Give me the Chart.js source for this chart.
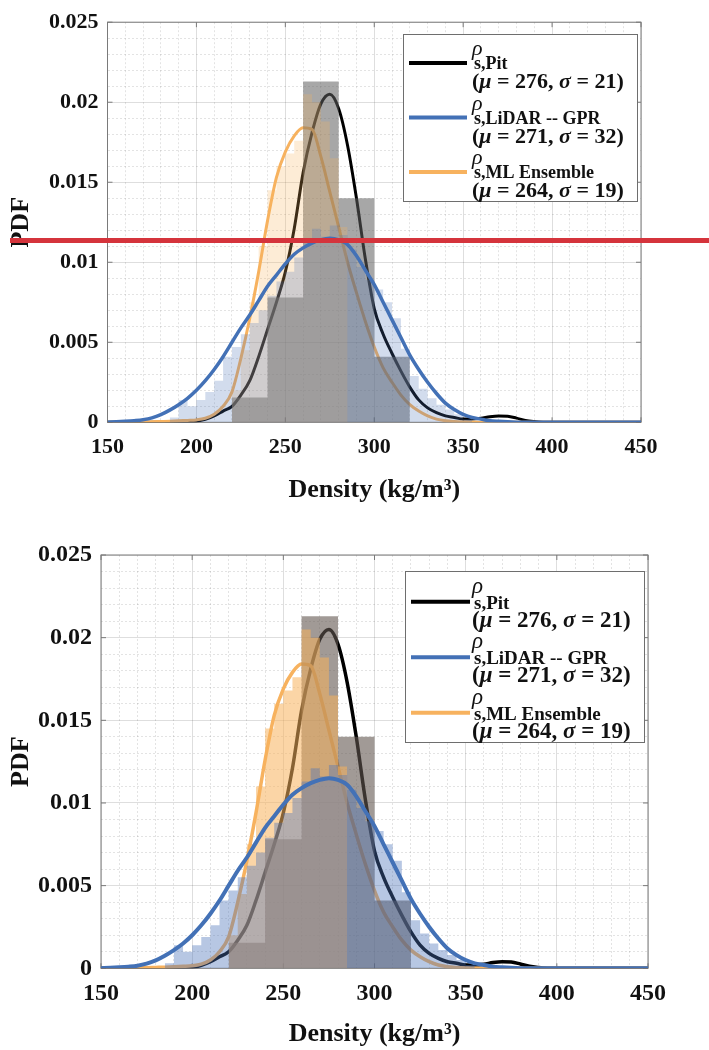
<!DOCTYPE html>
<html>
<head>
<meta charset="utf-8">
<script src="https://cdn.jsdelivr.net/npm/chart.js@4.4.1/dist/chart.umd.min.js"></script>
<style>
  html, body { margin: 0; padding: 0; background: #fff; }
  body { width: 709px; height: 1050px; position: relative; overflow: hidden; }
  .panel { position: absolute; left: 0; width: 709px; }
  #topPanel { top: 0; height: 520px; }
  #bottomPanel { top: 520px; height: 530px; }
  .marker-line { position: absolute; left: 10px; top: 238px; width: 699px; height: 5px; background: #d5343c; }
</style>
</head>
<body>
<div class="panel" id="topPanel"><canvas id="topChart"></canvas></div>
<div class="panel" id="bottomPanel"><canvas id="bottomChart"></canvas></div>
<div class="marker-line"></div>
<script>
// Histogram bins: edges (n+1) and densities (n)
const pitBinEdges = [220, 240, 260, 280, 300, 320];
const pitBinValues = [0.00155, 0.0078, 0.0213, 0.0140, 0.0041];

const lidarBinEdges = [185, 190, 195, 200, 205, 210, 215, 220, 225, 230, 235, 240, 245, 250, 255, 260, 265, 270,
  275, 280, 285, 290, 295, 300, 305, 310, 315, 320, 325, 330, 335, 340, 345, 350, 355];
const lidarBinValues = [0.0003, 0.0014, 0.0010, 0.0014, 0.0019, 0.0026, 0.0041, 0.0047, 0.0055, 0.0062, 0.0070,
  0.0079, 0.0088, 0.0094, 0.0103, 0.0113, 0.0121, 0.0116, 0.0123, 0.0117, 0.0108, 0.0097, 0.0089, 0.0083,
  0.0075, 0.0065, 0.0046, 0.0029, 0.0021, 0.0015, 0.0011, 0.0008, 0.0005, 0.0002];

const mlBinEdges = [220, 225, 230, 235, 240, 245, 250, 255, 260, 265, 270, 275, 280, 285];
const mlBinValues = [0.0020, 0.0045, 0.0075, 0.0110, 0.0145, 0.0160, 0.0168, 0.0176, 0.0205, 0.0200, 0.0188,
  0.0165, 0.0122];

// Smoothed PDF curves sampled on a common density grid
const densityGrid = [150, 155, 160, 165, 170, 175, 180, 185, 190, 195, 200, 205, 210, 215, 220, 225, 230, 235,
  240, 245, 250, 255, 260, 265, 270, 275, 280, 285, 290, 295, 300, 305, 310, 315, 320, 325, 330, 335, 340, 345,
  350, 355, 360, 365, 370, 375, 380, 385, 390, 395, 400, 405, 410, 415, 420, 425, 430, 435, 440, 445, 450];

const pitCurve = [0, 0, 0, 0, 0, 0, 0, 0, 0,
  0.00002, 0.00006, 0.00018, 0.0004, 0.0007, 0.0010, 0.0017, 0.0026, 0.0041, 0.0058,
  0.0075, 0.0094, 0.0121, 0.0156, 0.0181, 0.0199, 0.0205, 0.0196, 0.0173, 0.0140,
  0.0102, 0.0071, 0.0055, 0.0043, 0.0032, 0.0022, 0.0014, 0.0009, 0.0006, 0.0004,
  0.0003, 0.0002, 0.0002, 0.00025, 0.00035, 0.0004, 0.00038, 0.00026, 0.00012, 0.00005,
  0.00001, 0, 0, 0, 0, 0, 0, 0, 0, 0, 0, 0];

const mlCurve = [0, 0, 0, 0.00001, 0.00002, 0.00003, 0.00005, 0.00007, 0.0001,
  0.00012, 0.00015, 0.00025, 0.0005, 0.001, 0.0019, 0.0040, 0.0065, 0.0094, 0.0126,
  0.0153, 0.0169, 0.0179, 0.0184, 0.0183, 0.0166, 0.0144, 0.0122, 0.0100, 0.0081,
  0.0063, 0.0047, 0.0034, 0.0025, 0.0017, 0.0011, 0.0007, 0.0004, 0.0002, 0.0001,
  0.00005, 0.00002, 0, 0, 0, 0, 0, 0, 0, 0, 0, 0, 0, 0, 0, 0, 0, 0, 0, 0, 0, 0];

const lidarCurve = [0.00001, 0.00003, 0.00006, 0.0001, 0.00016, 0.00028, 0.00048, 0.00076, 0.0011,
  0.0015, 0.0020, 0.0026, 0.0033, 0.0041, 0.0050, 0.0059, 0.0067, 0.0076, 0.0085,
  0.0092, 0.0099, 0.0105, 0.0109, 0.0112, 0.0114, 0.0115, 0.0114, 0.0111, 0.0104,
  0.0095, 0.0086, 0.0075, 0.0064, 0.0053, 0.0042, 0.0033, 0.0025, 0.0018, 0.0012,
  0.0008, 0.0005, 0.0003, 0.0002, 0.0001, 0.00006, 0.00003, 0.00001,
  0, 0, 0, 0, 0, 0, 0, 0, 0, 0, 0, 0, 0, 0];

const xTicks = [150, 200, 250, 300, 350, 400, 450];
const yTicks = [0, 0.005, 0.01, 0.015, 0.02, 0.025];

// Legend order: Pit, LiDAR-GPR, ML Ensemble
const legendSubscripts = ['s,Pit', 's,LiDAR -- GPR', 's,ML Ensemble'];
const legendMu = [276, 271, 264];
const legendSigma = [21, 32, 19];

const SERIF = "'Liberation Serif', 'Times New Roman', serif";
const COLORS = { pit: '#000000', lidar: '#4371b6', ml: '#f7b25f' };
const legendColors = [COLORS.pit, COLORS.lidar, COLORS.ml];

Chart.defaults.font.family = SERIF;
Chart.defaults.font.weight = 'bold';
Chart.defaults.color = '#111';

// stepped 'before': horizontal at each bin value up to the next edge
function histogramPoints(edges, values) {
  const pts = [{ x: edges[0], y: 0 }];
  values.forEach((v, i) => pts.push({ x: edges[i], y: v }));
  pts.push({ x: edges[edges.length - 1], y: values[values.length - 1] });
  pts.push({ x: edges[edges.length - 1], y: 0 });
  return pts;
}

function curvePoints(values) {
  return densityGrid.map((x, i) => ({ x: x, y: values[i] }));
}

function isMajorX(v) { return xTicks.includes(v); }
function isMajorY(v) { return yTicks.some(t => Math.abs(t - v) < 1e-9); }

/**
 * Axes box with inward major ticks (drawn under the data)
 */
const axesBox = {
  id: 'axesBox',
  beforeDatasetsDraw(chart, args, opts) {
    const { ctx, chartArea: a, scales: { x, y } } = chart;
    ctx.save();
    ctx.strokeStyle = opts.color;
    ctx.lineWidth = 1;
    ctx.strokeRect(a.left, a.top, a.right - a.left, a.bottom - a.top);
    ctx.beginPath();
    xTicks.forEach(v => {
      const px = x.getPixelForValue(v);
      ctx.moveTo(px, a.bottom); ctx.lineTo(px, a.bottom - opts.tickLen);
      ctx.moveTo(px, a.top); ctx.lineTo(px, a.top + opts.tickLen);
    });
    yTicks.forEach(v => {
      const py = y.getPixelForValue(v);
      ctx.moveTo(a.left, py); ctx.lineTo(a.left + opts.tickLen, py);
      ctx.moveTo(a.right, py); ctx.lineTo(a.right - opts.tickLen, py);
    });
    ctx.stroke();
    ctx.restore();
  }
};

function drawRuns(ctx, runs, x, y, size) {
  runs.forEach(([text, italic]) => {
    ctx.font = (italic ? 'italic ' : '') + 'bold ' + size + 'px ' + SERIF;
    ctx.fillText(text, x, y);
    x += ctx.measureText(text).width;
  });
}

/**
 * Legend with subscripts and statistics line
 */
const pdfLegend = {
  id: 'pdfLegend',
  afterDatasetsDraw(chart, args, o) {
    const ctx = chart.ctx;
    const [bx, by, bw, bh] = o.box;
    ctx.save();
    ctx.fillStyle = '#fff';
    ctx.fillRect(bx, by, bw, bh);
    ctx.strokeStyle = '#6e6e6e';
    ctx.lineWidth = 1;
    ctx.strokeRect(bx + 0.5, by + 0.5, bw, bh);
    ctx.textAlign = 'left';
    ctx.textBaseline = 'alphabetic';
    legendSubscripts.forEach((sub, i) => {
      const ly = o.firstRow + i * o.rowStep;
      ctx.strokeStyle = legendColors[i];
      ctx.lineWidth = o.sampleWidth;
      ctx.beginPath();
      ctx.moveTo(o.sampleX[0], ly);
      ctx.lineTo(o.sampleX[1], ly);
      ctx.stroke();
      ctx.fillStyle = '#111';
      ctx.font = 'italic ' + o.rhoSize + 'px ' + SERIF;
      ctx.fillText('ρ', o.textX, ly + o.rhoDy);
      ctx.font = 'bold ' + o.subSize + 'px ' + SERIF;
      ctx.fillText(sub, o.textX + 2, ly + o.subDy);
      drawRuns(ctx, [['(', false], ['μ', true], [' = ' + legendMu[i] + ', ', false], ['σ', true],
        [' = ' + legendSigma[i] + ')', false]], o.textX, ly + o.statDy, o.statSize);
    });
    ctx.restore();
  }
};

function buildDatasets(style) {
  const curve = { type: 'line', pointRadius: 0, fill: false, cubicInterpolationMode: 'monotone',
    borderWidth: style.curveWidth };
  const hist = { type: 'line', pointRadius: 0, stepped: 'before', fill: 'origin',
    borderColor: 'rgba(0,0,0,0)', borderWidth: 0 };
  return [
    Object.assign({ label: 'Pit', data: curvePoints(pitCurve), borderColor: COLORS.pit, order: 6 }, curve),
    Object.assign({ label: 'ML Ensemble', data: curvePoints(mlCurve), borderColor: COLORS.ml, order: 5 }, curve),
    Object.assign({ label: 'Pit hist', data: histogramPoints(pitBinEdges, pitBinValues),
      backgroundColor: style.pitFill, order: 4 }, hist),
    Object.assign({ label: 'ML hist', data: histogramPoints(mlBinEdges, mlBinValues),
      backgroundColor: style.mlFill, order: 3 }, hist),
    Object.assign({ label: 'LiDAR hist', data: histogramPoints(lidarBinEdges, lidarBinValues),
      backgroundColor: style.lidarFill, order: 2 }, hist),
    Object.assign({ label: 'LiDAR -- GPR', data: curvePoints(lidarCurve), borderColor: COLORS.lidar,
      order: 1 }, curve, { borderWidth: style.curveWidth + 0.5 })
  ];
}

function makeChart(canvasId, g, style) {
  const gridMajor = 'rgba(0,0,0,0.13)';
  const gridMinor = 'rgba(0,0,0,0.11)';
  return new Chart(document.getElementById(canvasId), {
    type: 'line',
    data: { datasets: buildDatasets(style) },
    options: {
      responsive: true,
      maintainAspectRatio: false,
      animation: false,
      events: [],
      layout: { padding: g.padding },
      plugins: {
        legend: { display: false },
        tooltip: { enabled: false },
        axesBox: { color: '#7a7a7a', tickLen: 5 },
        pdfLegend: g.legend
      },
      scales: {
        x: {
          type: 'linear',
          min: 150,
          max: 450,
          afterBuildTicks: s => {
            const t = [];
            for (let v = 150; v <= 450; v += 10) t.push({ value: v });
            s.ticks = t;
          },
          afterFit: s => { s.height = g.xAxisHeight; },
          ticks: {
            autoSkip: false, maxRotation: 0, minRotation: 0, padding: g.xTickPad,
            font: { size: g.tickSize, weight: 'bold' }, color: '#111',
            callback: v => (isMajorX(v) ? String(v) : '')
          },
          grid: {
            drawTicks: false,
            color: ctx => (ctx.tick && isMajorX(ctx.tick.value) ? gridMajor : gridMinor)
          },
          border: { display: false, dash: ctx => (ctx.tick && !isMajorX(ctx.tick.value) ? [2, 2] : []) },
          title: {
            display: true, text: 'Density (kg/m³)', color: '#111',
            font: { size: 26, weight: 'bold' }, padding: { top: 0, bottom: g.xTitlePad }
          }
        },
        y: {
          type: 'linear',
          min: 0,
          max: 0.025,
          afterBuildTicks: s => {
            const t = [];
            for (let k = 0; k <= 25; k++) t.push({ value: k / 1000 });
            s.ticks = t;
          },
          afterFit: s => { s.width = g.yAxisWidth; },
          ticks: {
            autoSkip: false, padding: 9,
            font: { size: g.tickSize, weight: 'bold' }, color: '#111',
            callback: v => {
              const t = yTicks.find(tv => Math.abs(tv - v) < 1e-9);
              return t === undefined ? '' : String(t);
            }
          },
          grid: {
            drawTicks: false,
            color: ctx => (ctx.tick && isMajorY(ctx.tick.value) ? gridMajor : gridMinor)
          },
          border: { display: false, dash: ctx => (ctx.tick && !isMajorY(ctx.tick.value) ? [2, 2] : []) },
          title: {
            display: true, text: 'PDF', color: '#111',
            font: { size: 26, weight: 'bold' }, padding: { top: 6, bottom: 0 }
          }
        }
      }
    },
    plugins: [axesBox, pdfLegend]
  });
}

// Upper panel: faded histograms
makeChart('topChart', {
  padding: { left: 0, right: 68, top: 17, bottom: 0 },
  yAxisWidth: 107.5,
  xAxisHeight: 97.7,
  xTickPad: 12,
  xTitlePad: 14,
  tickSize: 22,
  legend: { box: [403, 34, 234, 167], firstRow: 63, rowStep: 54.5, sampleX: [409, 467], sampleWidth: 4,
    textX: 472, rhoSize: 22, subSize: 18, statSize: 22, rhoDy: -8, subDy: 6, statDy: 25 }
}, {
  curveWidth: 3,
  pitFill: 'rgba(95,95,95,0.55)',
  mlFill: 'rgba(247,178,93,0.25)',
  lidarFill: 'rgba(74,116,184,0.25)'
});

// Lower panel: stronger histograms
makeChart('bottomChart', {
  padding: { left: 0, right: 61, top: 35, bottom: 0 },
  yAxisWidth: 101,
  xAxisHeight: 81.7,
  xTickPad: 11,
  xTitlePad: 0,
  tickSize: 24,
  legend: { box: [405, 51, 239, 171], firstRow: 81.7, rowStep: 55.5, sampleX: [411, 470], sampleWidth: 4,
    textX: 472, rhoSize: 23, subSize: 19, statSize: 23, rhoDy: -9, subDy: 7, statDy: 25 }
}, {
  curveWidth: 3.5,
  pitFill: 'rgba(98,86,80,0.6)',
  mlFill: 'rgba(247,178,93,0.55)',
  lidarFill: 'rgba(74,116,184,0.4)'
});
</script>
</body>
</html>
